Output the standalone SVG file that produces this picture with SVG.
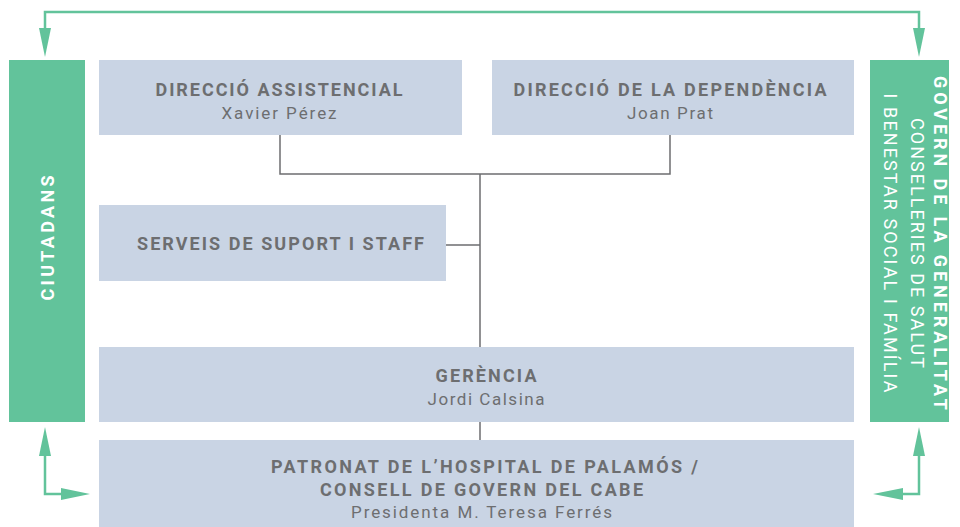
<svg xmlns="http://www.w3.org/2000/svg" width="960" height="527" viewBox="0 0 960 527">
<defs>
<style>
.box{fill:#c9d4e4}
.gbox{fill:#62c39b}
.t{font-family:Roboto,"Liberation Sans",sans-serif;fill:#6d6e70;text-anchor:middle}
.b{font-weight:bold;font-size:18px}
.n{font-size:17px}
.w{fill:#ffffff}
.ln{stroke:#6d6e70;stroke-width:1.5;fill:none}
.ar{stroke:#62c39b;stroke-width:2.5;fill:none}
.ah{fill:#62c39b}
</style>
</defs>
<rect width="960" height="527" fill="#ffffff"/>
<g id="connectors">
<path class="ln" d="M280 135V174H670V135M480 174V347M446 245H480M480 422V440"/>
<path class="ar" d="M45 40V12H919V40"/>
<polygon class="ah" points="39,28 51,28 45,57"/>
<polygon class="ah" points="913,28 925,28 919,57"/>
<path class="ar" d="M45 452V494H70"/>
<polygon class="ah" points="39,456 51,456 45,427"/>
<polygon class="ah" points="61,488 61,500 90,494"/>
<path class="ar" d="M919 452V494H894"/>
<polygon class="ah" points="913,456 925,456 919,427"/>
<polygon class="ah" points="903,488 903,500 873,494"/>
</g>
<g id="ciutadans">
<rect class="gbox" x="9" y="60" width="76" height="362"/>
<text class="t b w" transform="translate(54,238) rotate(-90)" textLength="125" lengthAdjust="spacing">CIUTADANS</text>
</g>
<g id="govern">
<rect class="gbox" x="870" y="60" width="79" height="362"/>
<text class="t w" transform="translate(934,243) rotate(90)" font-weight="bold" font-size="18" textLength="334" lengthAdjust="spacing">GOVERN DE LA GENERALITAT</text>
<text class="t w" transform="translate(911,243) rotate(90)" font-size="18" textLength="250" lengthAdjust="spacing">CONSELLERIES DE SALUT</text>
<text class="t w" transform="translate(884,243) rotate(90)" font-size="18" textLength="299" lengthAdjust="spacing">I BENESTAR SOCIAL I FAMÍLIA</text>
</g>
<g id="dir-assistencial">
<rect class="box" x="99" y="60" width="363" height="75"/>
<text class="t b" x="279" y="96" textLength="247" lengthAdjust="spacing">DIRECCIÓ ASSISTENCIAL</text>
<text class="t n" x="279" y="119" textLength="115" lengthAdjust="spacing">Xavier Pérez</text>
</g>
<g id="dir-dependencia">
<rect class="box" x="492" y="60" width="362" height="75"/>
<text class="t b" x="670" y="96" textLength="313" lengthAdjust="spacing">DIRECCIÓ DE LA DEPENDÈNCIA</text>
<text class="t n" x="670" y="119" textLength="86" lengthAdjust="spacing">Joan Prat</text>
</g>
<g id="serveis">
<rect class="box" x="99" y="205" width="347" height="76"/>
<text class="t b" x="280.5" y="250" textLength="287" lengthAdjust="spacing">SERVEIS DE SUPORT I STAFF</text>
</g>
<g id="gerencia">
<rect class="box" x="99" y="347" width="755" height="75"/>
<text class="t b" x="486" y="382" textLength="101" lengthAdjust="spacing">GERÈNCIA</text>
<text class="t n" x="486" y="405" textLength="117" lengthAdjust="spacing">Jordi Calsina</text>
</g>
<g id="patronat">
<rect class="box" x="99" y="440" width="755" height="87"/>
<text class="t b" x="484.5" y="473" textLength="427" lengthAdjust="spacing">PATRONAT DE L’HOSPITAL DE PALAMÓS /</text>
<text class="t b" x="481.5" y="496" textLength="323" lengthAdjust="spacing">CONSELL DE GOVERN DEL CABE</text>
<text class="t n" x="481.5" y="518" textLength="261" lengthAdjust="spacing">Presidenta M. Teresa Ferrés</text>
</g>
</svg>
